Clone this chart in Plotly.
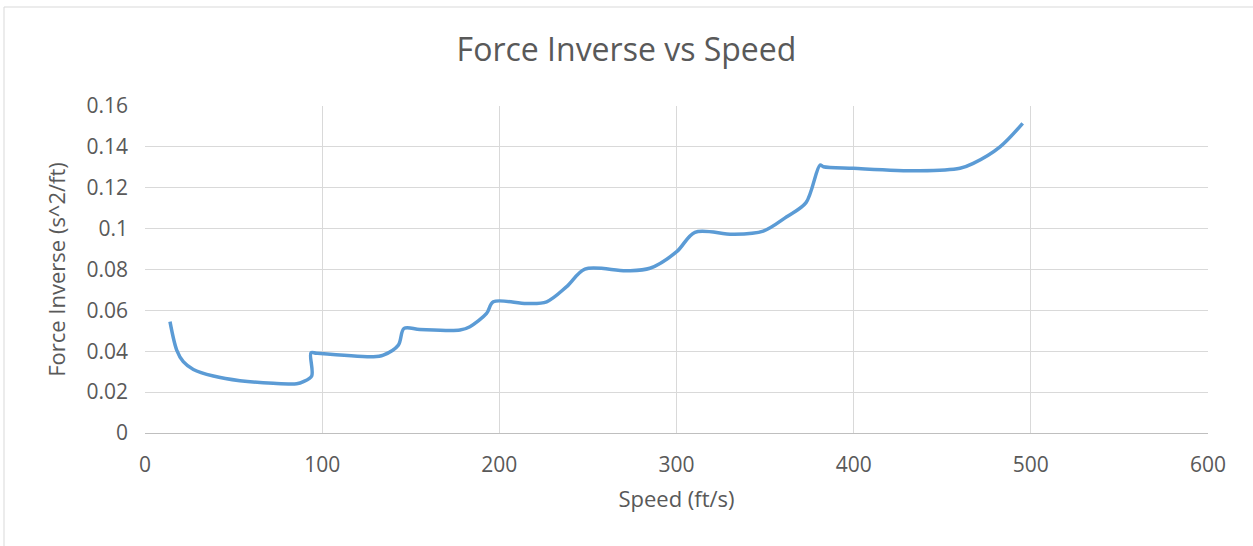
import plotly.graph_objects as go

speed = [14.1, 17.9, 21.6, 27.3, 38.6, 53.6, 72.4, 85.6, 89.4, 94.1, 93.7, 96.9,
         128.9, 134.5, 143.0, 146.2, 155.2, 177.8, 183.4, 192.8, 196.6, 215.4,
         226.7, 238.0, 248.3, 271.9, 285.0, 300.1, 310.4, 332.0, 349.0, 362.2,
         373.1, 381.0, 382.9, 399.8, 437.4, 460.0, 467.5, 482.6, 495.4]
force_inv = [0.0545, 0.0406, 0.0349, 0.0311, 0.0279, 0.0256, 0.0243, 0.0241, 0.0251,
             0.0279, 0.0393, 0.0390, 0.0373, 0.0381, 0.0430, 0.0512, 0.0507, 0.0504,
             0.0520, 0.0585, 0.0642, 0.0634, 0.0642, 0.0716, 0.0802, 0.0794, 0.0806,
             0.0887, 0.0982, 0.0972, 0.0988, 0.1058, 0.1127, 0.1311, 0.1303, 0.1295,
             0.1283, 0.1295, 0.1319, 0.1400, 0.1515]

x_ticks = [0, 100, 200, 300, 400, 500, 600]
y_ticks = [0, 0.02, 0.04, 0.06, 0.08, 0.1, 0.12, 0.14, 0.16]
y_labels = ["0", "0.02", "0.04", "0.06", "0.08", "0.1", "0.12", "0.14", "0.16"]

FONT = "Open Sans"
GRAY = "#595959"

fig = go.Figure()
fig.add_trace(go.Scatter(
    x=speed, y=force_inv, mode="lines",
    line=dict(color="#5B9BD5", width=3.5, shape="spline", smoothing=0.9),
    hoverinfo="x+y", showlegend=False,
))

fig.update_layout(
    width=1253, height=546,
    margin=dict(l=145, r=45, t=106, b=113),
    paper_bgcolor="white", plot_bgcolor="white",
    font=dict(family=FONT, color=GRAY),
    title=dict(text="Force Inverse vs Speed", x=0.5, xanchor="center",
               y=1 - 50 / 546, yref="container", yanchor="middle",
               font=dict(family=FONT, size=32, color=GRAY)),
    xaxis=dict(range=[0, 600], tickvals=x_ticks, showgrid=True, gridcolor="#D9D9D9",
               gridwidth=1, zeroline=False, showline=True, linecolor="#BFBFBF",
               linewidth=1, ticks="", ticklabelstandoff=13,
               tickfont=dict(size=21, color=GRAY),
               title=dict(text="Speed (ft/s)", font=dict(size=22, color=GRAY), standoff=14),
               mirror=False),
    yaxis=dict(range=[0, 0.16], tickvals=y_ticks, ticktext=y_labels, showgrid=True,
               gridcolor="#D9D9D9", gridwidth=1, zeroline=False, showline=False,
               ticks="", ticklabelstandoff=16, tickfont=dict(size=21, color=GRAY),
               title=dict(text="Force Inverse (s^2/ft)", font=dict(size=22, color=GRAY),
                          standoff=14)),
)

# chart-area border (left and top edges visible in the reference)
fig.add_shape(type="line", xref="paper", yref="paper",
              x0=(4 - 145) / 1063, x1=(4 - 145) / 1063, y0=(433 - 560) / 327, y1=(433 - 7) / 327,
              line=dict(color="#D9D9D9", width=1))
fig.add_shape(type="line", xref="paper", yref="paper",
              x0=(4 - 145) / 1063, x1=(1260 - 145) / 1063, y0=(433 - 7) / 327, y1=(433 - 7) / 327,
              line=dict(color="#D9D9D9", width=1))

fig.write_html("out.html", config={"displayModeBar": False},
               post_script="document.body.style.margin='0';")
